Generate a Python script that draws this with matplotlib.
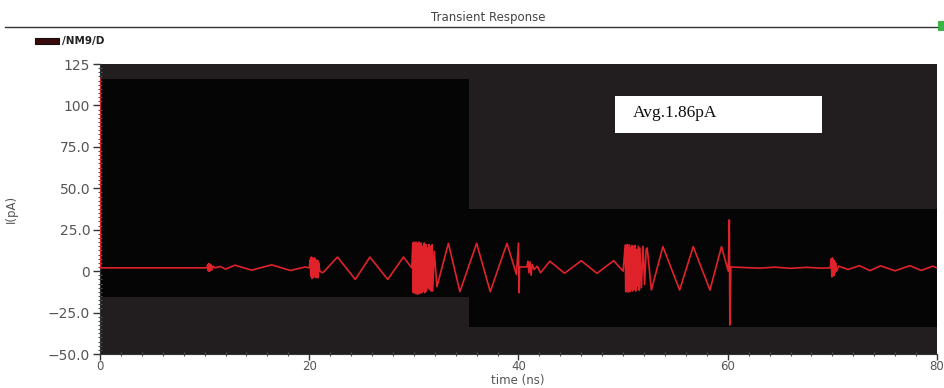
import numpy as np
import matplotlib.pyplot as plt
from matplotlib.patches import Rectangle

# drain current of /NM9/D, vertices
t_ns = [
    0.0, 0.05, 10.2,
    10.3, 10.35, 10.4, 10.45, 10.5, 10.55, 10.6, 10.7, 10.8, 11.0,
    11.5, 12.0, 12.9, 14.5, 16.4, 18.2, 19.6, 20.0,
    20.1, 20.15, 20.2, 20.25, 20.3, 20.35, 20.4, 20.45, 20.5, 20.55,
    20.6, 20.65, 20.7, 20.75, 20.8, 20.85, 20.9, 21.0,
    21.3, 22.7, 24.4, 25.8, 27.5, 29.0, 29.8,
    29.9, 29.95, 30.0, 30.05, 30.1, 30.15, 30.2, 30.25, 30.3, 30.35,
    30.4, 30.45, 30.5, 30.55, 30.6, 30.65, 30.7, 30.75, 30.8, 30.9,
    31.0, 31.05, 31.15, 31.2, 31.3, 31.35, 31.45, 31.5, 31.6, 31.65,
    31.75, 31.8, 31.95,
    32.2, 33.3, 34.4, 36.0, 37.3, 38.9, 39.8,
    40.0, 40.05, 40.1,
    40.8, 40.9, 41.0, 41.1, 41.2, 41.3, 41.5, 41.8,
    42.1, 43.0, 44.4, 46.0, 47.5, 49.1, 50.0,
    50.2, 50.25, 50.3, 50.35, 50.4, 50.45, 50.5, 50.55, 50.6, 50.65,
    50.7, 50.75, 50.85, 50.9, 51.0, 51.05, 51.15, 51.2, 51.3, 51.35,
    51.45, 51.55, 51.6, 51.75, 51.9, 52.05, 52.2, 52.3,
    52.7, 53.8, 55.4, 56.7, 58.3, 59.4, 60.05,
    60.15, 60.2, 60.3,
    61.5, 63.0, 64.5, 66.0, 67.5, 69.0, 69.8,
    69.9, 69.95, 70.0, 70.05, 70.1, 70.15, 70.2, 70.25, 70.3, 70.4, 70.6,
    71.5, 72.6, 73.6, 74.6, 76.0, 77.4, 78.5, 79.6, 80.0,
]
i_pA = [
    116.0, 2.0, 2.0,
    4.0, 0.2, 4.5, 0.0, 4.2, 0.3, 3.8, 0.8, 3.0, 2.0,
    2.8, 1.2, 3.6, 0.6, 3.8, 0.4, 2.5, 2.0,
    7.0, -3.0, 8.5, -4.5, 8.0, -4.0, 7.5, -3.5, 8.0, -2.0,
    7.0, -4.0, 6.0, -3.0, 6.5, -4.0, 5.0, 0.0,
    -1.0, 8.5, -5.0, 8.5, -5.0, 8.5, 2.0,
    17.0, -13.0, 17.5, -12.5, 17.0, -13.5, 17.5, -12.0, 16.5, -14.0,
    17.0, -13.0, 17.5, -13.5, 16.0, -12.0, 17.0, -13.0, 15.0, -12.0,
    17.0, -13.0, 16.0, -12.0, 14.0, -10.0, 16.0, -11.0, 15.0, -12.0,
    16.0, -12.0, 12.0,
    -9.4, 16.8, -12.4, 16.8, -12.4, 16.8, -2.0,
    17.0, -13.0, 2.5,
    2.5, 6.0, -1.0, 5.5, -2.5, 4.0, 1.0, 3.0,
    -1.0, 6.0, -1.3, 6.3, -1.3, 6.3, 0.0,
    15.8, -12.4, 15.0, -12.0, 16.0, -12.6, 15.5, -12.0, 15.8, -12.4,
    14.0, -11.0, 15.5, -12.0, 15.0, -11.0, 15.5, -12.0, 13.0, -9.0,
    15.0, -11.5, 14.0, -10.0, 15.0, -8.0, 13.0, 14.0,
    -11.4, 14.8, -11.4, 14.8, -11.4, 14.8, 0.0,
    30.9, -32.5, 2.5,
    2.2, 1.8, 2.4, 1.7, 2.3, 1.8, 2.0,
    7.5, -3.5, 8.0, -3.0, 7.0, -2.5, 6.0, -1.0, 5.0, 0.0, 3.0,
    1.0, 3.3, 0.3, 3.2, 0.2, 3.3, 0.4, 3.0, 2.0,
]

x_ticks = [0, 20, 40, 60, 80]
y_ticks = [-50, -25, 0, 25, 50, 75, 100, 125]
y_labels = ["\u221250.0", "\u221225.0", "0", "25.0", "50.0", "75.0", "100", "125"]

avg_text = "Avg.1.86pA"

fig = plt.figure(figsize=(9.45, 3.88), dpi=100)
ax = fig.add_axes([100 / 945, 34 / 388, 837 / 945, 290 / 388])

gray = "#221e1f"
ax.set_facecolor(gray)

# black plot regions (screen-capture background)
ax.add_patch(Rectangle((0, -15.6), 35.3, 131.6, facecolor="#050505", edgecolor="none", zorder=0))
ax.add_patch(Rectangle((35.3, -34.0), 44.7, 71.5, facecolor="#050505", edgecolor="none", zorder=0))

ax.plot(t_ns, i_pA, color="#e0222b", linewidth=1.2, zorder=3)

# note box
ax.add_patch(Rectangle((49.2, 83.4), 19.8, 22.3, facecolor="white", edgecolor="none", zorder=4))
ax.text(50.9, 95.2, avg_text, family="Liberation Serif", fontsize=12.5,
        color="#111111", va="center", ha="left", zorder=5)

ax.set_xlim(0, 80)
ax.set_ylim(-50, 125)
ax.set_xticks(x_ticks)
ax.set_yticks(y_ticks)
ax.set_yticklabels(y_labels)
ax.set_xticks(np.arange(0, 81, 2), minor=True)
ax.set_yticks(np.arange(-50, 126, 2.5), minor=True)

ax.tick_params(which="major", length=5, width=1, color="#333333",
               labelcolor="#555555", pad=2)
ax.tick_params(axis="y", which="major", labelsize=10)
ax.tick_params(axis="x", which="major", labelsize=8.5, length=4, pad=0)
ax.tick_params(which="minor", length=2.5, width=0.8, color="#555555", direction="inout")

for side in ["top", "right"]:
    ax.spines[side].set_visible(False)
ax.spines["left"].set_color("#333333")
ax.spines["bottom"].set_color("#333333")

ax.set_xlabel("time (ns)", fontsize=8.5, color="#555555")
ax.set_ylabel("I(pA)", fontsize=8.5, color="#555555")
ax.xaxis.set_label_coords(0.4994, -0.07)
ax.yaxis.set_label_coords(-0.098, 0.5)

# header
fig.text(488 / 945, 1 - 17 / 388, "Transient Response", fontsize=8.5,
         color="#444444", ha="center", va="center")
fig.add_artist(plt.Line2D([5 / 945, 937 / 945], [1 - 27 / 388, 1 - 27 / 388],
                          color="#333333", linewidth=1))
fig.add_artist(Rectangle((938 / 945, 1 - 31 / 388), 7 / 945, 10 / 388,
                         facecolor="#39b54a", edgecolor="none"))

# legend entry
fig.add_artist(Rectangle((35 / 945, 1 - 44 / 388), 24 / 945, 6 / 388,
                         facecolor="#3a0a0a", edgecolor="#111111", linewidth=0.8))
fig.text(62 / 945, 1 - 41 / 388, "/NM9/D", fontsize=7.5, color="#222222",
         ha="left", va="center", fontweight="bold")

plt.savefig("out.png", dpi=100)
